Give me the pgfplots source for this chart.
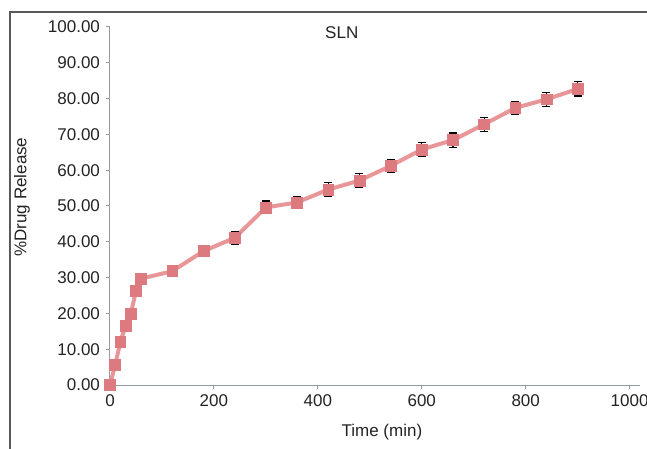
\documentclass[border=0pt]{standalone}
\usepackage{pgfplots}
\pgfplotsset{compat=1.18}
\usepackage{fontspec}
\setmainfont{Liberation Sans}
\definecolor{lineP}{RGB}{232,150,152}
\definecolor{markP}{RGB}{221,122,128}
\definecolor{axisG}{RGB}{150,155,160}
\definecolor{txt}{RGB}{35,35,35}
\begin{document}
\fontsize{8.5}{10}\selectfont
\begin{tikzpicture}
\begin{axis}[
scale only axis,
width=265pt, height=179pt,
xmin=0, xmax=1020, ymin=0, ymax=100,
axis x line=bottom, axis y line=left,
axis line style={-, axisG, line width=0.5pt},
tick style={axisG, line width=0.5pt},
tick align=outside,
major tick length=2pt,
xtick={0,200,...,1000},
ytick={0,10,...,100},
yticklabel style={/pgf/number format/.cd, fixed, fixed zerofill, precision=2, assume math mode=true},
xticklabel style={/pgf/number format/.cd, set thousands separator={}, assume math mode=true},
ticklabel style={txt, font=\fontsize{8.5}{10}\selectfont},
every axis y label/.style={at={(axis description cs:-0.166,0.525)}, rotate=90, anchor=center, txt, font=\fontsize{8.5}{10}\selectfont},
every axis x label/.style={at={(axis description cs:0.513,-0.131)}, anchor=center, txt, font=\fontsize{8.5}{10}\selectfont},
xlabel={Time (min)},
ylabel={\%Drug Release},
clip=false,
]
\addplot[
  color=lineP, line width=2pt,
  mark=square*, mark size=2.7pt,
  mark options={fill=markP, draw=markP, line width=0.3pt},
  error bars/.cd, y dir=both, y explicit,
  error bar style={black, line width=0.6pt},
  error mark options={rotate=90, mark size=2pt, black, line width=0.6pt},
] coordinates {
(0,0) +- (0,0.5)
(10,5.6) +- (0,0.8)
(20,12.1) +- (0,0.9)
(30,16.5) +- (0,1.0)
(40,19.9) +- (0,1.0)
(50,26.3) +- (0,1.0)
(60,29.7) +- (0,1.0)
(120,31.8) +- (0,1.6)
(180,37.4) +- (0,1.4)
(240,41.1) +- (0,1.8)
(300,49.6) +- (0,1.8)
(360,51.0) +- (0,1.7)
(420,54.6) +- (0,1.9)
(480,57.1) +- (0,1.9)
(540,61.2) +- (0,1.8)
(600,65.8) +- (0,2.0)
(660,68.4) +- (0,2.0)
(720,72.8) +- (0,1.9)
(780,77.4) +- (0,1.8)
(840,79.8) +- (0,2.0)
(900,82.7) +- (0,2.0)
};
\node[txt, font=\fontsize{8.5}{10}\selectfont] at (axis cs:446,98.3) {SLN};
\end{axis}
\draw[gray!70!black, line width=0.7pt] ([xshift=-50pt,yshift=-40pt]current axis.origin) -- ([xshift=-50pt,yshift=186.5pt]current axis.origin) -- ([xshift=290pt,yshift=186.5pt]current axis.origin);
\pgfresetboundingbox
\path ([xshift=-55pt,yshift=-32pt]current axis.origin) rectangle ([xshift=268.5pt,yshift=192.5pt]current axis.origin);
\end{tikzpicture}
\end{document}
